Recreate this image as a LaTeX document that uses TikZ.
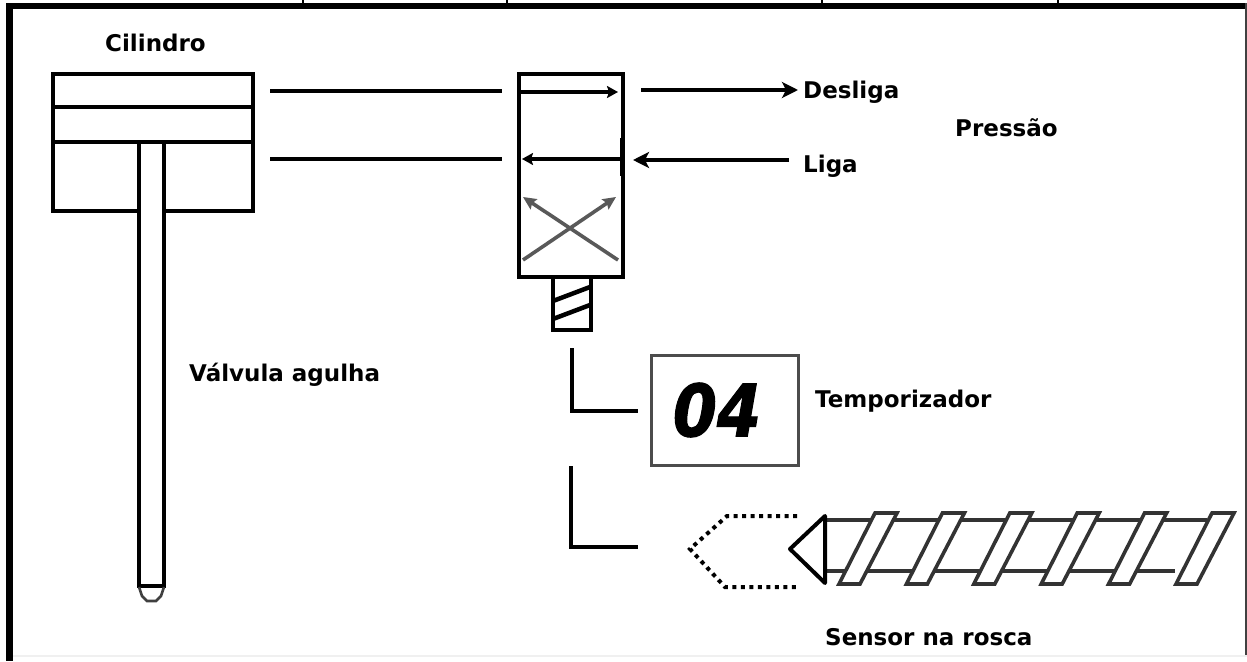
\documentclass[tikz,border=0pt]{standalone}
\usepackage{fontspec}
\setmainfont{DejaVu Sans}
\newfontfamily\digitfont[ItalicFeatures={FakeBold=1.6},BoldItalicFeatures={FakeBold=1.6}]{DejaVu Sans}
\usetikzlibrary{arrows.meta}
\tikzset{
  x=1pt,y=-1pt,
  lbl/.style={inner sep=0pt,anchor=base west,font=\bfseries\fontsize{23}{25}\selectfont,text=black},
  ln/.style={line width=4pt,draw=black},
  box/.style={line width=4pt,draw=black},
  thinarr/.style={line width=3.6pt,draw=black,-{Stealth[length=11pt,width=12pt,inset=2pt]}},
  arr/.style={line width=3.6pt,draw=black,-{Stealth[length=16pt,width=16pt,inset=4pt]}},
  darr/.style={line width=3.6pt,draw=black!65,-{Stealth[length=13pt,width=12pt,inset=2pt]}},
  scr/.style={line width=3.6pt,draw=black!80,fill=white},
  dots/.style={line width=4pt,draw=black,dash pattern=on 4pt off 4.5pt},
}
\begin{document}
\begin{tikzpicture}
\useasboundingbox (0,0) rectangle (1247,661);
\fill[white] (0,0) rectangle (1247,661);
% frame
\fill[black] (6,3) rectangle (1246,9);
\fill[black] (6,3) rectangle (13,661);
\fill[black!75] (1245,3) rectangle (1247,655);
\fill[black!6] (13,655) rectangle (1247,656.5);
\foreach \t in {303,507,822,1058} \draw[line width=1.2pt] (\t,0) -- (\t,3);
% cylinder
\node[lbl] (cil) at (105,52) {Cilindro};
\draw[box] (53,74) rectangle (253,211);
\draw[box] (53,107) -- (253,107);
\draw[box] (53,142) -- (253,142);
% needle
\fill[white] (139,144) rectangle (164,585);
\draw[box] (139,142) -- (139,588);
\draw[box] (164,142) -- (164,588);
\draw[box] (139,585.5) -- (164,585.5);
\draw[line width=2.6pt,black!75] (139,587) -- (142,596) -- (147,601) -- (156,601) -- (161,596) -- (164,587);
\node[lbl] (val) at (189,381) {Válvula agulha};
% valve
\draw[box] (519,74) rectangle (622.5,277);
\draw[thinarr] (520,92) -- (618,92);
\draw[thinarr] (621,159) -- (522,159);
\draw[line width=2.5pt] (621.5,138) -- (621.5,176);
\draw[darr] (618,260) -- (523,197);
\draw[darr] (523,260) -- (616,197);
% solenoid
\draw[line width=4pt] (553,277) rectangle (591,330);
\draw[line width=4.5pt] (553,301) -- (590,287);
\draw[line width=4.5pt] (553,319) -- (590,305);
% connectors
\coordinate (c1a) at (270,91); \coordinate (c1b) at (502,91);
\coordinate (c2a) at (270,159); \coordinate (c2b) at (502,159);
\draw[ln] (c1a) -- (c1b);
\draw[ln] (c2a) -- (c2b);
\node[lbl] (des) at (803,99) {Desliga};
\node[lbl] (lig) at (803,172) {Liga};
\coordinate (d0) at (641,90);
\coordinate (d1) at (798,90);
\coordinate (l0) at (789,160);
\coordinate (l1) at (633,160);
\draw[arr] (d0) -- (d1);
\draw[arr] (l0) -- (l1);
\node[lbl] (pre) at (955,136) {Pressão};
% timer
\node[draw=black!70,line width=3.5pt,minimum width=147pt,minimum height=110pt,inner sep=0pt] (tm) at (725,410.5) {};
\node[inner sep=0pt,xscale=.88,font=\digitfont\bfseries\itshape\fontsize{72}{72}\selectfont] (n04) at (717,410) {04};
\node[lbl] (tem) at (815,407) {Temporizador};
\coordinate (a1) at (572,348); \coordinate (a2) at (572,411); \coordinate (a3) at (638,411);
\draw[ln] (a1) -- (a2) -- (a3);
\coordinate (b1) at (571,466); \coordinate (b2) at (571,547); \coordinate (b3) at (638,547);
\draw[ln] (b1) -- (b2) -- (b3);
% screw
\draw[line width=3.2pt,black!80] (825,520) -- (1207,520);
\draw[line width=3.2pt,black!80] (825,571) -- (1175,571);
\foreach \s in {0,1,2,3,4,5}{
  \draw[scr] ({839+\s*67.4},584) -- ({860+\s*67.4},584) -- ({897+\s*67.4},513) -- ({875+\s*67.4},513) -- cycle;
}
\draw[line width=4pt,line join=round,fill=white] (825,516) -- (790,549) -- (825,583) -- cycle;
\node[lbl] (sen) at (825,645) {Sensor na rosca};
\draw[dots] (797,516) -- (727,516) -- (690,549) -- (725,587) -- (797,587);
\end{tikzpicture}
\end{document}
